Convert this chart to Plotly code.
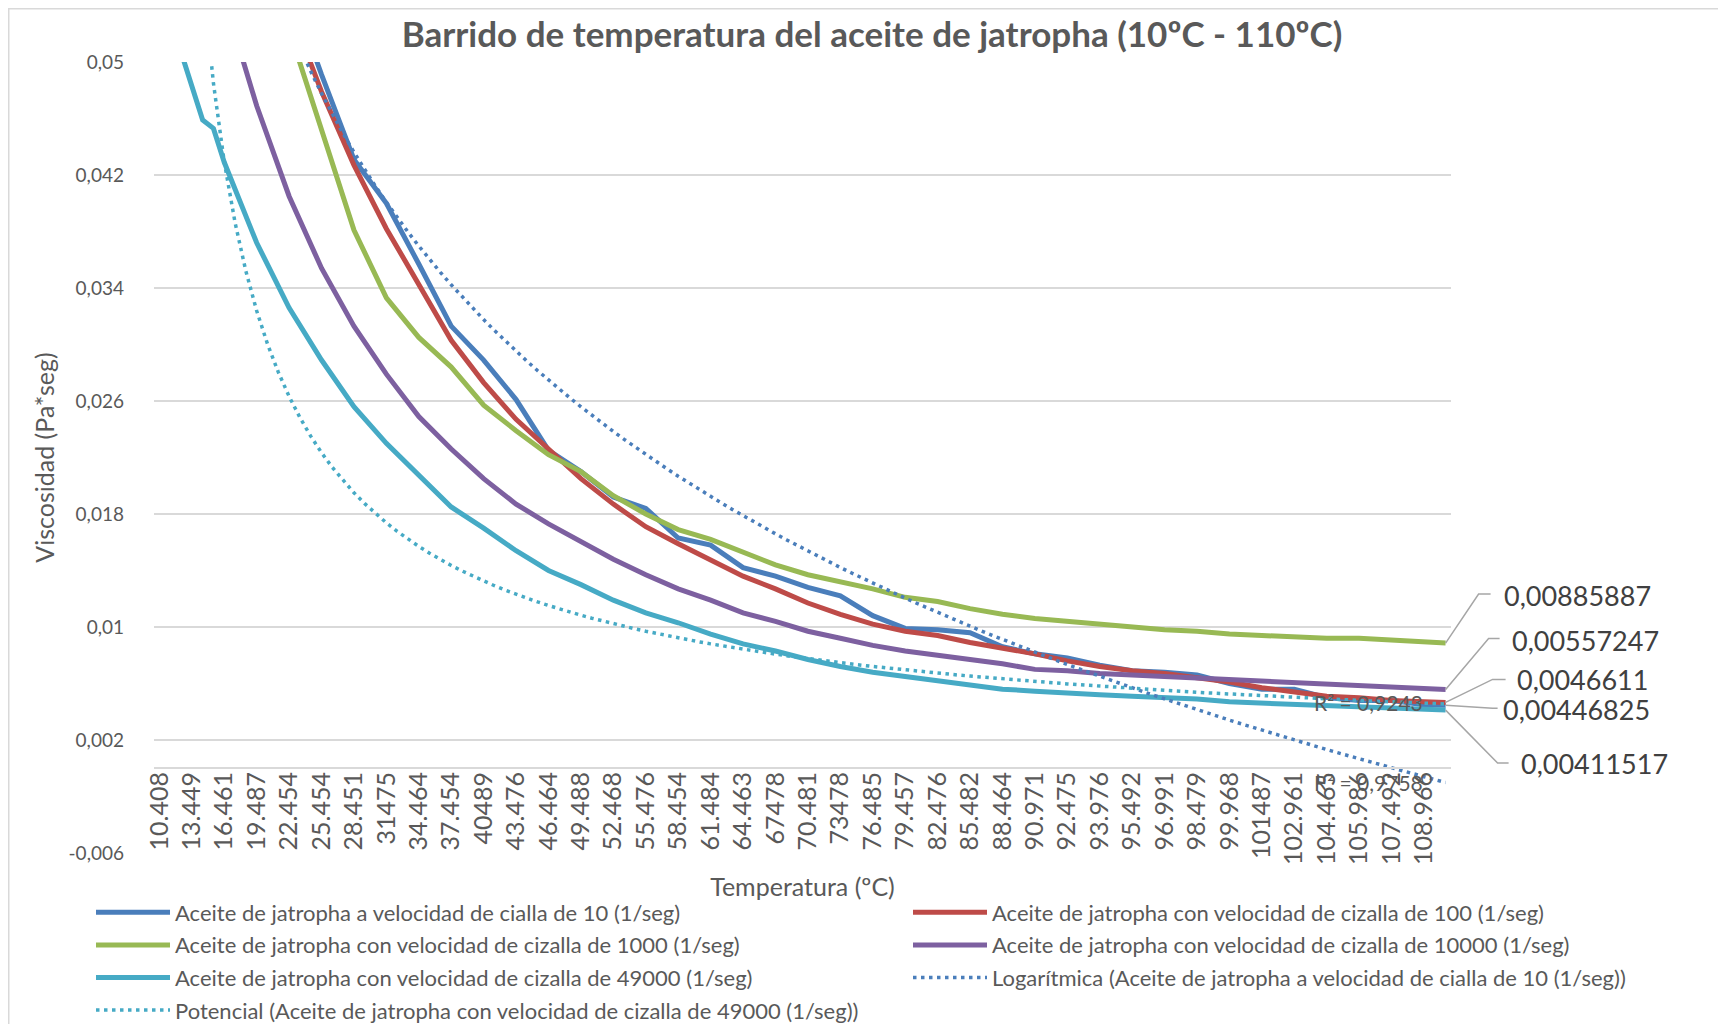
import numpy as np
import plotly.graph_objects as go

# ---------------- data ----------------
temperature_labels = [
    "10.408", "13.449", "16.461", "19.487", "22.454", "25.454", "28.451", "31475",
    "34.464", "37.454", "40489", "43.476", "46.464", "49.488", "52.468", "55.476",
    "58.454", "61.484", "64.463", "67478", "70.481", "73478", "76.485", "79.457",
    "82.476", "85.482", "88.464", "90.971", "92.475", "93.976", "95.492", "96.991",
    "98.479", "99.968", "101487", "102.961", "104.465", "105.986", "107.492", "108.966",
]
n_categories = 120
# category positions of the sampled points (every labelled category + the last one)
cat_idx = list(range(0, 3 * len(temperature_labels), 3)) + [n_categories - 1]
# the 49000 series also has two extra sampled categories (the small step near the top)
cat_idx_49000 = cat_idx[:2] + [4, 5] + cat_idx[2:]

visc_10 = [0.092, 0.080, 0.070, 0.062, 0.0555, 0.0491, 0.0431, 0.0400, 0.0357, 0.0313,
           0.0289, 0.0261, 0.0225, 0.0210, 0.0192, 0.0184, 0.0163, 0.0158, 0.0142, 0.0136,
           0.0128, 0.0122, 0.0108, 0.0099, 0.0098, 0.0096, 0.0086, 0.0081, 0.0078, 0.0073,
           0.0069, 0.0068, 0.0066, 0.0060, 0.0056, 0.0056, 0.0050, 0.0048, 0.0048, 0.0045,
           0.00446825]
visc_100 = [0.085, 0.075, 0.066, 0.059, 0.0539, 0.0479, 0.0427, 0.0382, 0.0342, 0.0303,
            0.0273, 0.0247, 0.0226, 0.0205, 0.0187, 0.0171, 0.0159, 0.0147, 0.0136, 0.0127,
            0.0117, 0.0109, 0.0102, 0.0097, 0.0094, 0.0089, 0.0085, 0.0081, 0.0076, 0.0072,
            0.0069, 0.0067, 0.0064, 0.0061, 0.0057, 0.0054, 0.0051, 0.0050, 0.0048, 0.0047,
            0.0046611]
visc_1000 = [0.080, 0.072, 0.065, 0.058, 0.0523, 0.0452, 0.0381, 0.0333, 0.0305, 0.0284,
             0.0257, 0.0239, 0.0222, 0.0210, 0.0193, 0.0180, 0.0169, 0.0162, 0.0153, 0.0144,
             0.0137, 0.0132, 0.0127, 0.0121, 0.0118, 0.0113, 0.0109, 0.0106, 0.0104, 0.0102,
             0.0100, 0.0098, 0.0097, 0.0095, 0.0094, 0.0093, 0.0092, 0.0092, 0.0091, 0.0090,
             0.00885887]
visc_10000 = [0.071, 0.062, 0.0545, 0.0469, 0.0405, 0.0354, 0.0313, 0.0279, 0.0249, 0.0226,
              0.0205, 0.0187, 0.0173, 0.0160, 0.0148, 0.0137, 0.0127, 0.0119, 0.0110, 0.0104,
              0.0097, 0.0092, 0.0087, 0.0083, 0.0080, 0.0077, 0.0074, 0.0070, 0.0069, 0.0067,
              0.0066, 0.0065, 0.0064, 0.0063, 0.0062, 0.0061, 0.0060, 0.0059, 0.0058, 0.0057,
              0.00557247]
visc_49000 = [0.0555, 0.0481, 0.0459, 0.0453, 0.0429, 0.0372, 0.0326, 0.0289, 0.0256, 0.0230,
              0.0207, 0.0185, 0.0170, 0.0154, 0.0140, 0.0130, 0.0119, 0.0110, 0.0103, 0.0095,
              0.0088, 0.0083, 0.0077, 0.0072, 0.0068, 0.0065, 0.0062, 0.0059, 0.0056, 0.00546,
              0.0053, 0.0052, 0.0051, 0.0050, 0.0049, 0.0047, 0.0046, 0.0045, 0.0044, 0.0043,
              0.0042, 0.00415, 0.00411517]

# trendline coefficients (Excel-style, x = category number 1..N)
LOG_A, LOG_B = -0.02421, 0.1149      # y = a*ln(n) + b
POW_C, POW_D = 0.1997, -0.79         # y = c*n^d
R2_LOG, R2_POW = "0,9758", "0,9243"

y_ticks = [-0.006, 0.002, 0.01, 0.018, 0.026, 0.034, 0.042, 0.05]
y_ticktext = ["-0,006", "0,002", "0,01", "0,018", "0,026", "0,034", "0,042", "0,05"]

end_labels = ["0,00885887", "0,00557247", "0,0046611", "0,00446825", "0,00411517"]

names = [
    "Aceite de jatropha a velocidad de cialla de 10 (1/seg)",
    "Aceite de jatropha con velocidad de cizalla de 100 (1/seg)",
    "Aceite de jatropha con velocidad de cizalla de 1000 (1/seg)",
    "Aceite de jatropha con velocidad de cizalla de 10000 (1/seg)",
    "Aceite de jatropha con velocidad de cizalla de 49000 (1/seg)",
]
colors = ["#4A7EBB", "#BE4B48", "#98B954", "#7D60A0", "#46AAC5"]
series = [visc_10, visc_100, visc_1000, visc_10000, visc_49000]
series_x = [cat_idx, cat_idx, cat_idx, cat_idx, cat_idx_49000]
legend_of = ["legend", "legend2", "legend", "legend2", "legend"]

FONT = "Lato, 'Open Sans', sans-serif"
TXT = "#595959"

W, H = 1718, 1016
ML, MR, MT, MB = 146, 275, 54, 171

fig = go.Figure()
for k, (name, col, xs, vals) in enumerate(zip(names, colors, series_x, series)):
    fig.add_trace(go.Scatter(x=xs, y=vals, mode="lines", name=name,
                             legend=legend_of[k], legendgroup="g%d" % k,
                             line=dict(color=col, width=5)))

n = np.arange(1, n_categories + 1)
x_all = n - 1
fig.add_trace(go.Scatter(x=x_all, y=LOG_A * np.log(n) + LOG_B, mode="lines",
                         name="Logarítmica (" + names[0] + ")", legend="legend2",
                         legendgroup="g5",
                         line=dict(color=colors[0], width=3.5, dash="3.5px,4.5px")))
fig.add_trace(go.Scatter(x=x_all, y=POW_C * n ** POW_D, mode="lines",
                         name="Potencial (" + names[4] + ")", legend="legend",
                         legendgroup="g6",
                         line=dict(color=colors[4], width=3.5, dash="3.5px,4.5px")))

y_min, y_max = y_ticks[0], y_ticks[-1]
zero_pos = (0 - y_min) / (y_max - y_min)
plot_w = W - ML - MR
plot_h = H - MT - MB

legend_common = dict(orientation="v", yanchor="top", xanchor="left", itemwidth=74,
                     font=dict(size=22, color=TXT, family=FONT),
                     bgcolor="rgba(0,0,0,0)", tracegroupgap=1)
legend_top = (plot_h + MT - 883.5) / plot_h

fig.update_layout(
    width=W, height=H,
    paper_bgcolor="white", plot_bgcolor="white",
    margin=dict(l=ML, r=MR, t=MT, b=MB, autoexpand=False),
    font=dict(family=FONT, color=TXT, size=19),
    title=dict(text="<b>Barrido de temperatura del aceite de jatropha (10ºC - 110ºC)</b>",
               x=864 / W, xref="container", xanchor="center",
               y=1 - 27 / H, yref="container", yanchor="middle",
               font=dict(size=35, color=TXT, family=FONT)),
    xaxis=dict(range=[-0.5, n_categories - 0.5], tickmode="array",
               tickvals=cat_idx[:len(temperature_labels)], ticktext=temperature_labels,
               tickangle=-90, tickfont=dict(size=25, color=TXT), ticks="",
               showgrid=False, zeroline=False, showline=True, linecolor="#D9D9D9",
               linewidth=1.5, anchor="free", position=zero_pos, automargin=False,
               ticklabelstandoff=-7,
               title=dict(text="Temperatura (ºC)", font=dict(size=25, color=TXT), standoff=14)),
    yaxis=dict(range=[y_min, y_max], tickmode="array", tickvals=y_ticks, ticktext=y_ticktext,
               tickfont=dict(size=19, color=TXT), showgrid=True, gridcolor="#D9D9D9",
               gridwidth=1.5, zeroline=False, showline=False, ticks="", automargin=False,
               ticklabelstandoff=29,
               title=dict(text="Viscosidad (Pa*seg)", font=dict(size=25, color=TXT), standoff=6)),
    legend=dict(x=(83 - ML) / plot_w, y=legend_top, **legend_common),
    legend2=dict(x=(900 - ML) / plot_w, y=legend_top, **legend_common),
    showlegend=True,
)

# data labels on the last point of each series, with leader lines
leader_paths = [
    "M0,0 L33,49 L45,49",
    "M0,0 L43,51 L54,51",
    "M0,0 L47,23 L60,23",
    "M0,0 L47,-3 L52,-3",
    "M0,0 L52,-53 L63,-53",
]
text_shift = [(56, 48), (64, 49), (69, 23), (55, -4), (73, -53)]
order = [2, 3, 1, 0, 4]  # green, purple, red, blue, cyan
x_last_paper = (cat_idx[-1] + 0.5) / n_categories
for k, si in enumerate(order):
    last_val = series[si][-1]
    fig.add_shape(type="path", xref="paper", yref="paper", xsizemode="pixel",
                  ysizemode="pixel", xanchor=x_last_paper,
                  yanchor=(last_val - y_min) / (y_max - y_min), path=leader_paths[k],
                  line=dict(color="#A6A6A6", width=1.5))
    fig.add_annotation(x=cat_idx[-1], y=last_val, xref="x", yref="y", text=end_labels[k],
                       showarrow=False, xanchor="left", yanchor="middle",
                       xshift=text_shift[k][0], yshift=text_shift[k][1],
                       font=dict(size=27, color="#404040", family=FONT))

# R² labels of the trendlines
fig.add_annotation(x=106.6, y=0.00467, xref="x", yref="y", text="R² = " + R2_POW,
                   showarrow=False, xanchor="left", yanchor="middle",
                   font=dict(size=21, color=TXT, family=FONT))
fig.add_annotation(x=106.6, y=-0.00098, xref="x", yref="y", text="R² = " + R2_LOG,
                   showarrow=False, xanchor="left", yanchor="middle",
                   font=dict(size=21, color=TXT, family=FONT))

# chart-area border
fig.add_shape(type="rect", xref="paper", yref="paper",
              x0=(0.75 - ML) / plot_w, x1=(W + 20 - ML) / plot_w,
              y0=-(MB + 20) / plot_h, y1=(plot_h + MT - 0.75) / plot_h,
              line=dict(color="#D9D9D9", width=1.5), layer="below")

fig.write_html("out.html")
